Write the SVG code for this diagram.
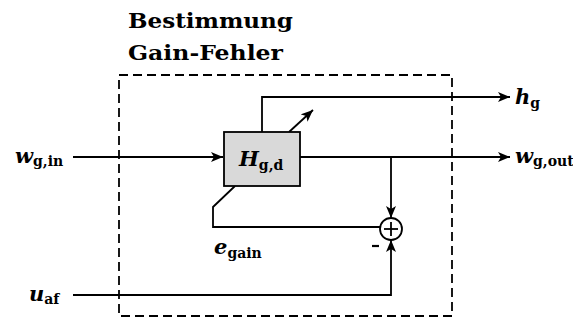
<svg xmlns="http://www.w3.org/2000/svg" width="573" height="321" viewBox="0 0 573 321">
<style>
.ln{fill:none;stroke:#000;stroke-width:1.8}
.m{font-family:"DejaVu Serif",serif;font-weight:bold;font-style:italic;fill:#000}
.s{font-family:"DejaVu Serif",serif;font-weight:bold;font-style:normal;fill:#000}
.t{font-family:"DejaVu Serif",serif;font-weight:bold;fill:#000;font-size:20px}
</style>
<defs>
<marker id="ar" viewBox="0 0 12 10" refX="12" refY="5" markerWidth="12" markerHeight="10" markerUnits="userSpaceOnUse" orient="auto">
<path d="M0,0 L12,5 L0,10 L3,5 Z" fill="#000"/>
</marker>
</defs>
<rect width="573" height="321" fill="#fff"/>
<g id="frame">
<rect x="119" y="75" width="333" height="241" fill="none" stroke="#000" stroke-width="1.8" stroke-dasharray="9,5"/>
<text class="t" x="128" y="28" textLength="165" lengthAdjust="spacingAndGlyphs">Bestimmung</text>
<text class="t" x="128" y="60" textLength="155" lengthAdjust="spacingAndGlyphs">Gain-Fehler</text>
</g>
<g id="connectors">
<line class="ln" x1="73" y1="157" x2="223" y2="157" marker-end="url(#ar)"/>
<polyline class="ln" points="262,132 262,97 510,97" marker-end="url(#ar)"/>
<line class="ln" x1="289" y1="132" x2="313" y2="110" marker-end="url(#ar)"/>
<line class="ln" x1="300" y1="157" x2="510" y2="157" marker-end="url(#ar)"/>
<line class="ln" x1="391" y1="157" x2="391" y2="218" marker-end="url(#ar)"/>
<polyline class="ln" points="235,186 213,207 213,227 380,227"/>
<polyline class="ln" points="73,295 391,295 391,240" marker-end="url(#ar)"/>
</g>
<g id="H">
<rect x="224" y="132" width="76" height="54" fill="#d9d9d9" stroke="#000" stroke-width="1.8"/>
<text x="239" y="166"><tspan class="m" font-size="21">H</tspan><tspan class="s" font-size="14" dy="4">g,d</tspan></text>
</g>
<g id="sum">
<circle cx="391" cy="229" r="11" fill="#fff" stroke="#000" stroke-width="1.8"/>
<line class="ln" x1="384" y1="229" x2="398" y2="229"/>
<line class="ln" x1="391" y1="222" x2="391" y2="236"/>
<line x1="372" y1="246" x2="379" y2="246" stroke="#000" stroke-width="2.2"/>
</g>
<g id="labels">
<text x="15" y="163"><tspan class="m" font-size="21">w</tspan><tspan class="s" font-size="14" dy="3">g,in</tspan></text>
<text x="515" y="104"><tspan class="m" font-size="21">h</tspan><tspan class="s" font-size="14" dy="4">g</tspan></text>
<text x="515" y="163"><tspan class="m" font-size="21">w</tspan><tspan class="s" font-size="14" dy="3">g,out</tspan></text>
<text x="29" y="301"><tspan class="m" font-size="21">u</tspan><tspan class="s" font-size="14" dy="3">af</tspan></text>
<text x="214" y="254"><tspan class="m" font-size="21">e</tspan><tspan class="s" font-size="14" dy="4">gain</tspan></text>
</g>
</svg>
